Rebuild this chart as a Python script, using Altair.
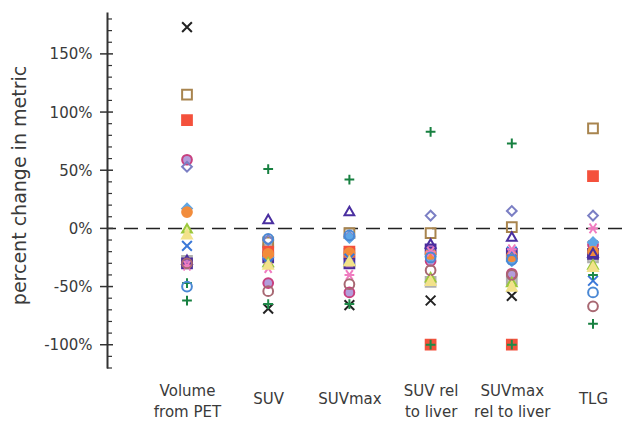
import altair as alt
import pandas as pd

# ---- data ----
metrics = ["Volume\nfrom PET", "SUV", "SUVmax", "SUV rel\nto liver", "SUVmax\nrel to liver", "TLG"]

series_names = ["s18", "s12", "s01", "s02", "s03", "s04", "s05", "s06", "s07", "s08",
                "s09", "s10", "s11", "s13", "s14", "s15", "s16", "s17"]

# percent change per metric (Volume, SUV, SUVmax, SUV rel liver, SUVmax rel liver, TLG)
values = {
    "s18": [-28, -18, -22, -46, -44, -25],
    "s12": [-30, -25, -30, -18, -22, -22],
    "s01": [173, -69, -66, -62, -58, -15],
    "s02": [115, -12, -4, -4, 1, 86],
    "s03": [93, -20, -20, -100, -100, 45],
    "s04": [59, -47, -55, -28, -39, -14],
    "s05": [53, -10, -7, 11, 15, 11],
    "s06": [17, -25, -8, -24, -28, -12],
    "s07": [14, -22, -21, -22, -24, -20],
    "s08": [0, -29, -28, -42, -46, -31],
    "s09": [-15, -30, -26, -20, -20, -45],
    "s10": [-27, 8, 15, -13, -7, -21],
    "s11": [-32, -34, -40, -20, -18, 0],
    "s13": [-62, 51, 42, 83, 73, -82],
    "s14": [-47, -65, -65, -100, -100, -40],
    "s15": [-50, -9, -6, -25, -27, -55],
    "s16": [-30, -54, -48, -36, -40, -67],
    "s17": [-5, -31, -28, -45, -50, -33],
}

major_ticks = [-100, -50, 0, 50, 100, 150]
minor_ticks = [-120, -110, -90, -80, -70, -60, -40, -30, -20, -10, 10, 20, 30, 40,
               60, 70, 80, 90, 110, 120, 130, 140, 160, 170, 180]

# ---- styles ----
X_PATH = "M-1,-1L1,1M-1,1L1,-1"
PLUS_PATH = "M-1,0L1,0M0,-1L0,1"
AST_PATH = "M-1,0L1,0M-0.7,-1L0.7,1M-0.7,1L0.7,-1"

shapes = ["square", "square", X_PATH, "square", "square", "circle", "diamond", "diamond",
          "circle", "triangle-up", X_PATH, "triangle-up", AST_PATH, PLUS_PATH,
          PLUS_PATH, "circle", "circle", "triangle-up"]
strokes = ["#b0b0b0", "#4b2c9a", "#222222", "#a8844e", "#f4513c", "#c8407f", "#7b7fc4",
           "#5ea6e6", "#f28c3c", "#9cc83c", "#3b78d8", "#4a2fa0", "#f07cc0", "#178040",
           "#1e8a48", "#4a88d4", "#a86872", "#f2e28a"]
fills = ["#c8c8c8", "#c878c8", "transparent", "transparent", "#f4513c", "#b39ddb",
         "transparent", "#5ea6e6", "#f28c3c", "#e8f0a0", "transparent", "transparent",
         "transparent", "transparent", "transparent", "transparent", "transparent", "#f2e28a"]

rows = []
for s in series_names:
    for m, v in zip(metrics, values[s]):
        rows.append({"series": s, "metric": m, "value": v})
df = pd.DataFrame(rows)

y_scale = alt.Scale(domain=[-120, 186], nice=False, zero=False)

points = alt.Chart(df).mark_point(filled=False, strokeWidth=2, size=95, opacity=1).encode(
    x=alt.X("metric:N", sort=metrics,
            scale=alt.Scale(type="point", range=[80, 486], padding=0),
            axis=alt.Axis(title=None, domain=False, ticks=False, grid=False,
                          labelAngle=0, labelFontSize=15, labelColor="#3a3a3a",
                          labelFont="DejaVu Sans", labelBaseline="middle",
                          labelPadding=alt.condition("indexof(datum.label, '\\n') >= 0",
                                                     alt.value(22), alt.value(30)),
                          labelLineHeight=21,
                          labelExpr="split(datum.label, '\\n')")),
    y=alt.Y("value:Q", scale=y_scale,
            axis=alt.Axis(title="percent change in metric", values=major_ticks,
                          grid=False, ticks=False, tickSize=0, domainColor="#333",
                          domainWidth=2, labelFontSize=15, labelColor="#3a3a3a",
                          labelFont="DejaVu Sans", labelPadding=15,
                          labelExpr="datum.value + '%'",
                          titleFont="DejaVu Sans", titleFontSize=19,
                          titleFontWeight="normal", titleColor="#3a3a3a",
                          titleX=-82, titleY=173, titleBaseline="alphabetic")),
    shape=alt.Shape("series:N", scale=alt.Scale(domain=series_names, range=shapes), legend=None),
    stroke=alt.Stroke("series:N", scale=alt.Scale(domain=series_names, range=strokes), legend=None),
    fill=alt.Fill("series:N", scale=alt.Scale(domain=series_names, range=fills), legend=None),
)

zero_line = alt.Chart(pd.DataFrame({"v": [0]})).mark_rule(
    color="#222", strokeWidth=1.5, strokeDash=[14, 8]).encode(y=alt.Y("v:Q", scale=y_scale))

major = alt.Chart(pd.DataFrame({"v": major_ticks})).mark_rule(color="#333", strokeWidth=1.5).encode(
    y=alt.Y("v:Q", scale=y_scale), x=alt.value(-7), x2=alt.value(6))
minor = alt.Chart(pd.DataFrame({"v": minor_ticks})).mark_rule(color="#333", strokeWidth=1.2).encode(
    y=alt.Y("v:Q", scale=y_scale), x=alt.value(0), x2=alt.value(5))

chart = alt.layer(zero_line, major, minor, points).properties(
    width=515, height=356,
    autosize=alt.AutoSizeParams(type="none"),
    padding={"left": 99, "top": 4, "right": 4, "bottom": 52},
).configure_view(stroke=None)

chart.save("out.html", embed_options={"renderer": "svg", "actions": False})
